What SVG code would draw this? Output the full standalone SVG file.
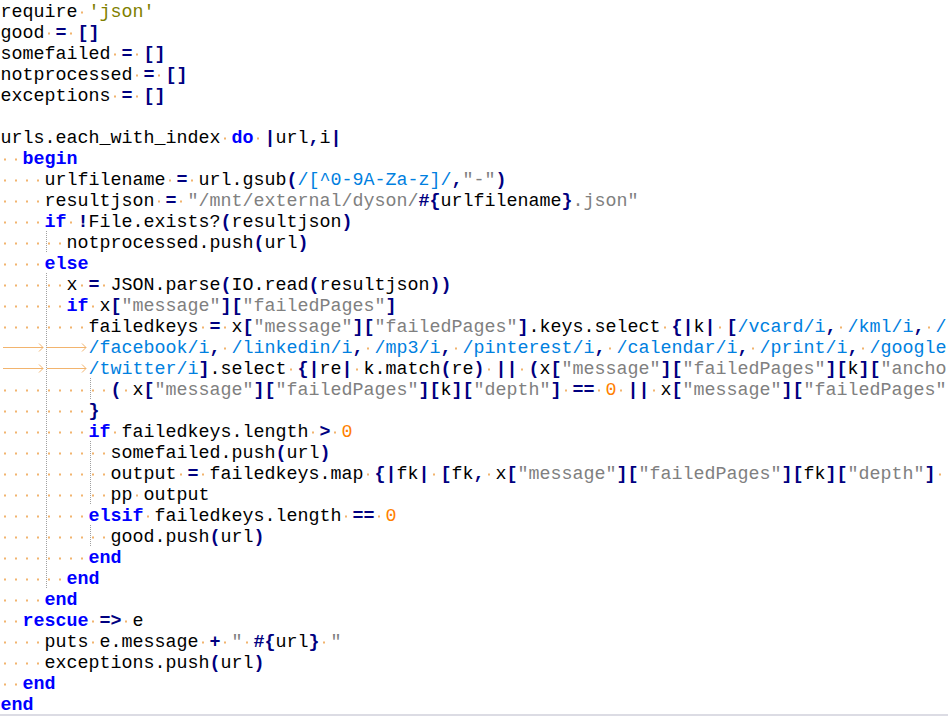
<svg xmlns="http://www.w3.org/2000/svg" width="948" height="716" viewBox="0 0 948 716">
<style>
.t{font-family:"Liberation Mono","Courier New",monospace;font-size:18.33px;fill:#000;white-space:pre}
.k{fill:#0000FF;font-weight:bold}
.o{fill:#000080;font-weight:bold}
.s{fill:#808080}
.c{fill:#808000}
.n{fill:#FF8000}
.r{fill:#0080E0}
.ws{fill:none;stroke:#F2B46E;stroke-width:2}
.tab{fill:none;stroke:#F2B46E;stroke-width:1}
.guide{fill:none;stroke:#A0A0A0;stroke-width:1;stroke-dasharray:1 1}
</style>
<rect x="0" y="0" width="948" height="716" fill="#FFFFFF"/>
<g id="indent-guides">
<path class="guide" d="M46.5 231V252M46.5 273V588M90.5 378V399M90.5 441V504M90.5 525V546"/>
</g>
<g id="whitespace">
<path class="ws" d="M81 12.5h2M48 33.5h2M70 33.5h2M114 54.5h2M136 54.5h2M136 75.5h2M158 75.5h2M114 96.5h2M136 96.5h2M224 138.5h2M257 138.5h2M4 159.5h2M15 159.5h2M4 180.5h2M15 180.5h2M26 180.5h2M37 180.5h2M169 180.5h2M191 180.5h2M4 201.5h2M15 201.5h2M26 201.5h2M37 201.5h2M158 201.5h2M180 201.5h2M4 222.5h2M15 222.5h2M26 222.5h2M37 222.5h2M70 222.5h2M4 243.5h2M15 243.5h2M26 243.5h2M37 243.5h2M48 243.5h2M59 243.5h2M4 264.5h2M15 264.5h2M26 264.5h2M37 264.5h2M4 285.5h2M15 285.5h2M26 285.5h2M37 285.5h2M48 285.5h2M59 285.5h2M81 285.5h2M103 285.5h2M4 306.5h2M15 306.5h2M26 306.5h2M37 306.5h2M48 306.5h2M59 306.5h2M92 306.5h2M4 327.5h2M15 327.5h2M26 327.5h2M37 327.5h2M48 327.5h2M59 327.5h2M70 327.5h2M81 327.5h2M202 327.5h2M224 327.5h2M664 327.5h2M719 327.5h2M840 327.5h2M928 327.5h2M224 348.5h2M367 348.5h2M455 348.5h2M609 348.5h2M752 348.5h2M862 348.5h2M290 369.5h2M356 369.5h2M488 369.5h2M521 369.5h2M4 390.5h2M15 390.5h2M26 390.5h2M37 390.5h2M48 390.5h2M59 390.5h2M70 390.5h2M81 390.5h2M92 390.5h2M103 390.5h2M125 390.5h2M565 390.5h2M598 390.5h2M620 390.5h2M653 390.5h2M4 411.5h2M15 411.5h2M26 411.5h2M37 411.5h2M48 411.5h2M59 411.5h2M70 411.5h2M81 411.5h2M4 432.5h2M15 432.5h2M26 432.5h2M37 432.5h2M48 432.5h2M59 432.5h2M70 432.5h2M81 432.5h2M114 432.5h2M312 432.5h2M334 432.5h2M4 453.5h2M15 453.5h2M26 453.5h2M37 453.5h2M48 453.5h2M59 453.5h2M70 453.5h2M81 453.5h2M92 453.5h2M103 453.5h2M4 474.5h2M15 474.5h2M26 474.5h2M37 474.5h2M48 474.5h2M59 474.5h2M70 474.5h2M81 474.5h2M92 474.5h2M103 474.5h2M180 474.5h2M202 474.5h2M367 474.5h2M433 474.5h2M488 474.5h2M939 474.5h2M4 495.5h2M15 495.5h2M26 495.5h2M37 495.5h2M48 495.5h2M59 495.5h2M70 495.5h2M81 495.5h2M92 495.5h2M103 495.5h2M136 495.5h2M4 516.5h2M15 516.5h2M26 516.5h2M37 516.5h2M48 516.5h2M59 516.5h2M70 516.5h2M81 516.5h2M147 516.5h2M345 516.5h2M378 516.5h2M4 537.5h2M15 537.5h2M26 537.5h2M37 537.5h2M48 537.5h2M59 537.5h2M70 537.5h2M81 537.5h2M92 537.5h2M103 537.5h2M4 558.5h2M15 558.5h2M26 558.5h2M37 558.5h2M48 558.5h2M59 558.5h2M70 558.5h2M81 558.5h2M4 579.5h2M15 579.5h2M26 579.5h2M37 579.5h2M48 579.5h2M59 579.5h2M4 600.5h2M15 600.5h2M26 600.5h2M37 600.5h2M4 621.5h2M15 621.5h2M92 621.5h2M125 621.5h2M4 642.5h2M15 642.5h2M26 642.5h2M37 642.5h2M92 642.5h2M202 642.5h2M224 642.5h2M246 642.5h2M323 642.5h2M4 663.5h2M15 663.5h2M26 663.5h2M37 663.5h2M4 684.5h2M15 684.5h2"/>
<path class="tab" d="M3 347.5H43M39 343.5L43 347.5L39 351.5M47 347.5H86M82 343.5L86 347.5L82 351.5M3 368.5H43M39 364.5L43 368.5L39 372.5M47 368.5H86M82 364.5L86 368.5L82 372.5"/>
</g>
<g id="code" class="t" xml:space="preserve">
<text x="0.5" y="17">require <tspan class="c">'json'</tspan></text>
<text x="0.5" y="38">good <tspan class="o">=</tspan> <tspan class="o">[]</tspan></text>
<text x="0.5" y="59">somefailed <tspan class="o">=</tspan> <tspan class="o">[]</tspan></text>
<text x="0.5" y="80">notprocessed <tspan class="o">=</tspan> <tspan class="o">[]</tspan></text>
<text x="0.5" y="101">exceptions <tspan class="o">=</tspan> <tspan class="o">[]</tspan></text>
<text x="0.5" y="143">urls.each_with_index <tspan class="k">do</tspan> <tspan class="o">|</tspan>url<tspan class="o">,</tspan>i<tspan class="o">|</tspan></text>
<text x="22.5" y="164"><tspan class="k">begin</tspan></text>
<text x="44.5" y="185">urlfilename <tspan class="o">=</tspan> url.gsub<tspan class="o">(</tspan><tspan class="r">/[^0-9A-Za-z]/</tspan><tspan class="o">,</tspan><tspan class="s">"-"</tspan><tspan class="o">)</tspan></text>
<text x="44.5" y="206">resultjson <tspan class="o">=</tspan> <tspan class="s">"/mnt/external/dyson/</tspan><tspan class="o">#{</tspan>urlfilename<tspan class="o">}</tspan><tspan class="s">.json"</tspan></text>
<text x="44.5" y="227"><tspan class="k">if</tspan> <tspan class="o">!</tspan>File.exists?<tspan class="o">(</tspan>resultjson<tspan class="o">)</tspan></text>
<text x="66.5" y="248">notprocessed.push<tspan class="o">(</tspan>url<tspan class="o">)</tspan></text>
<text x="44.5" y="269"><tspan class="k">else</tspan></text>
<text x="66.5" y="290">x <tspan class="o">=</tspan> JSON.parse<tspan class="o">(</tspan>IO.read<tspan class="o">(</tspan>resultjson<tspan class="o">))</tspan></text>
<text x="66.5" y="311"><tspan class="k">if</tspan> x<tspan class="o">[</tspan><tspan class="s">"message"</tspan><tspan class="o">][</tspan><tspan class="s">"failedPages"</tspan><tspan class="o">]</tspan></text>
<text x="88.5" y="332">failedkeys <tspan class="o">=</tspan> x<tspan class="o">[</tspan><tspan class="s">"message"</tspan><tspan class="o">][</tspan><tspan class="s">"failedPages"</tspan><tspan class="o">]</tspan>.keys.select <tspan class="o">{|</tspan>k<tspan class="o">|</tspan> <tspan class="o">[</tspan><tspan class="r">/vcard/i</tspan><tspan class="o">,</tspan> <tspan class="r">/kml/i</tspan><tspan class="o">,</tspan> <tspan class="r">/</tspan></text>
<text x="88.5" y="353"><tspan class="r">/facebook/i</tspan><tspan class="o">,</tspan> <tspan class="r">/linkedin/i</tspan><tspan class="o">,</tspan> <tspan class="r">/mp3/i</tspan><tspan class="o">,</tspan> <tspan class="r">/pinterest/i</tspan><tspan class="o">,</tspan> <tspan class="r">/calendar/i</tspan><tspan class="o">,</tspan> <tspan class="r">/print/i</tspan><tspan class="o">,</tspan> <tspan class="r">/google</tspan></text>
<text x="88.5" y="374"><tspan class="r">/twitter/i</tspan><tspan class="o">]</tspan>.select <tspan class="o">{|</tspan>re<tspan class="o">|</tspan> k.match<tspan class="o">(</tspan>re<tspan class="o">)</tspan> <tspan class="o">||</tspan> <tspan class="o">(</tspan>x<tspan class="o">[</tspan><tspan class="s">"message"</tspan><tspan class="o">][</tspan><tspan class="s">"failedPages"</tspan><tspan class="o">][</tspan>k<tspan class="o">][</tspan><tspan class="s">"ancho</tspan></text>
<text x="110.5" y="395"><tspan class="o">(</tspan> x<tspan class="o">[</tspan><tspan class="s">"message"</tspan><tspan class="o">][</tspan><tspan class="s">"failedPages"</tspan><tspan class="o">][</tspan>k<tspan class="o">][</tspan><tspan class="s">"depth"</tspan><tspan class="o">]</tspan> <tspan class="o">==</tspan> <tspan class="n">0</tspan> <tspan class="o">||</tspan> x<tspan class="o">[</tspan><tspan class="s">"message"</tspan><tspan class="o">][</tspan><tspan class="s">"failedPages"</tspan></text>
<text x="88.5" y="416"><tspan class="o">}</tspan></text>
<text x="88.5" y="437"><tspan class="k">if</tspan> failedkeys.length <tspan class="o">&gt;</tspan> <tspan class="n">0</tspan></text>
<text x="110.5" y="458">somefailed.push<tspan class="o">(</tspan>url<tspan class="o">)</tspan></text>
<text x="110.5" y="479">output <tspan class="o">=</tspan> failedkeys.map <tspan class="o">{|</tspan>fk<tspan class="o">|</tspan> <tspan class="o">[</tspan>fk<tspan class="o">,</tspan> x<tspan class="o">[</tspan><tspan class="s">"message"</tspan><tspan class="o">][</tspan><tspan class="s">"failedPages"</tspan><tspan class="o">][</tspan>fk<tspan class="o">][</tspan><tspan class="s">"depth"</tspan><tspan class="o">]</tspan></text>
<text x="110.5" y="500">pp output</text>
<text x="88.5" y="521"><tspan class="k">elsif</tspan> failedkeys.length <tspan class="o">==</tspan> <tspan class="n">0</tspan></text>
<text x="110.5" y="542">good.push<tspan class="o">(</tspan>url<tspan class="o">)</tspan></text>
<text x="88.5" y="563"><tspan class="k">end</tspan></text>
<text x="66.5" y="584"><tspan class="k">end</tspan></text>
<text x="44.5" y="605"><tspan class="k">end</tspan></text>
<text x="22.5" y="626"><tspan class="k">rescue</tspan> <tspan class="o">=&gt;</tspan> e</text>
<text x="44.5" y="647">puts e.message <tspan class="o">+</tspan> <tspan class="s">" </tspan><tspan class="o">#{</tspan>url<tspan class="o">}</tspan><tspan class="s"> "</tspan></text>
<text x="44.5" y="668">exceptions.push<tspan class="o">(</tspan>url<tspan class="o">)</tspan></text>
<text x="22.5" y="689"><tspan class="k">end</tspan></text>
<text x="0.5" y="710"><tspan class="k">end</tspan></text>
</g>
<rect x="0" y="714" width="948" height="2" fill="#DCDCE4"/>
</svg>
